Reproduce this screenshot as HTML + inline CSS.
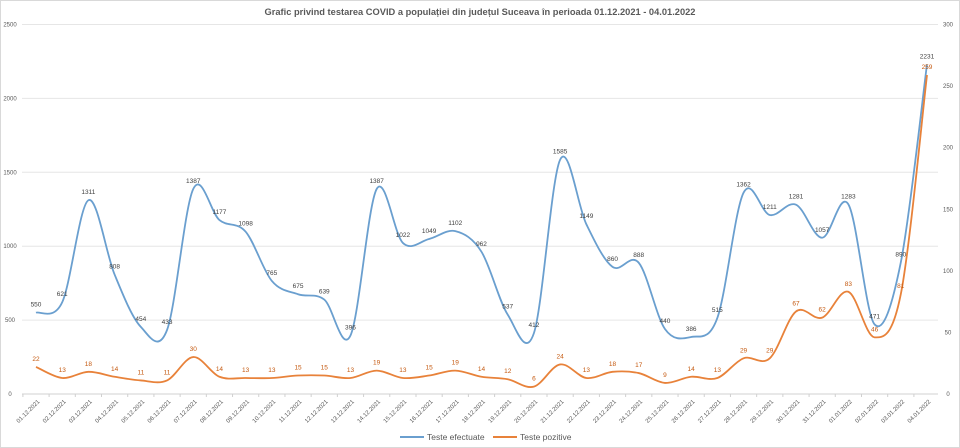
<!DOCTYPE html>
<html><head><meta charset="utf-8"><style>
html,body{margin:0;padding:0;background:#fff;}
svg{display:block;font-family:"Liberation Sans",sans-serif;}
</style></head><body>
<svg id="c" width="960" height="448" viewBox="0 0 960 448" xmlns="http://www.w3.org/2000/svg">
<rect x="0.5" y="0.5" width="959" height="447" fill="#fff" stroke="#d9d9d9"/>
<text x="480" y="15" text-anchor="middle" font-size="9.3" font-weight="bold" fill="#595959">Grafic privind testarea COVID a populației din județul Suceava în perioada 01.12.2021 - 04.01.2022</text>
</svg>
<script>
const B=[550,621,1311,808,454,433,1387,1177,1098,765,675,639,396,1387,1022,1049,1102,962,537,412,1585,1149,860,888,440,386,515,1362,1211,1281,1057,1283,471,890,2231];
const O=[22,13,18,14,11,11,30,14,13,13,15,15,13,19,13,15,19,14,12,6,24,13,18,17,9,14,13,29,29,67,62,83,46,81,259];
const svg=document.getElementById('c');const NS="http://www.w3.org/2000/svg";
function el(t,a,txt){const e=document.createElementNS(NS,t);for(const k in a)e.setAttribute(k,a[k]);if(txt!==undefined)e.textContent=txt;svg.appendChild(e);return e;}
const y0=394,yT=24.5,x0=36,dx=(927-36)/34;
const yl=v=>y0-(v/2500)*(y0-yT), yr=v=>y0-(v/300)*(y0-yT);
for(let i=0;i<=5;i++){const y=yl(i*500);
 el('line',{x1:22,x2:938,y1:y,y2:y,stroke:i?'#e6e6e6':'#d0d0d0','stroke-width':1});
 el('text',{x:10,y:y+2,'font-size':6,fill:'#595959','text-anchor':'middle'},String(i*500));}
for(let i=0;i<=6;i++){const y=yr(i*50);el('text',{x:948,y:y+2,'font-size':6,fill:'#595959','text-anchor':'middle'},String(i*50));}
function dates(){const r=[];for(let d=1;d<=31;d++)r.push(String(d).padStart(2,'0')+'.12.2021');for(let d=1;d<=4;d++)r.push('0'+d+'.01.2022');return r;}
const D=dates();
D.forEach((d,i)=>{const x=x0+i*dx;el('line',{x1:x-dx/2,x2:x-dx/2,y1:y0,y2:y0+3,stroke:'#d0d0d0'});
 el('text',{x:x+4,y:y0+8,'font-size':6,fill:'#595959','text-anchor':'end',transform:`rotate(-45 ${x+4} ${y0+8})`},d);});
function path(pts){let s=`M${pts[0][0]},${pts[0][1]}`;for(let i=0;i<pts.length-1;i++){const p0=pts[i-1]||pts[i],p1=pts[i],p2=pts[i+1],p3=pts[i+2]||p2;const t=6;
 s+=` C${p1[0]+(p2[0]-p0[0])/t},${p1[1]+(p2[1]-p0[1])/t} ${p2[0]-(p3[0]-p1[0])/t},${p2[1]-(p3[1]-p1[1])/t} ${p2[0]},${p2[1]}`;}return s;}
const pb=B.map((v,i)=>[x0+i*dx,yl(v)]),po=O.map((v,i)=>[x0+i*dx,yr(v)]);
el('path',{d:path(pb),fill:'none',stroke:'#6a9fcf','stroke-width':1.8});
el('path',{d:path(po),fill:'none',stroke:'#e8823a','stroke-width':1.8});
pb.forEach((p,i)=>el('text',{x:p[0],y:p[1]-6,'font-size':6.5,fill:'#404040','text-anchor':'middle'},B[i]));
po.forEach((p,i)=>el('text',{x:p[0],y:p[1]-6,'font-size':6.5,fill:'#c55a11','text-anchor':'middle'},O[i]));
el('line',{x1:400,x2:424,y1:437,y2:437,stroke:'#6a9fcf','stroke-width':2});
el('text',{x:427,y:440,'font-size':8.5,fill:'#595959'},'Teste efectuate');
el('line',{x1:493,x2:517,y1:437,y2:437,stroke:'#e8823a','stroke-width':2});
el('text',{x:520,y:440,'font-size':8.5,fill:'#595959'},'Teste pozitive');
</script>
</body></html>
